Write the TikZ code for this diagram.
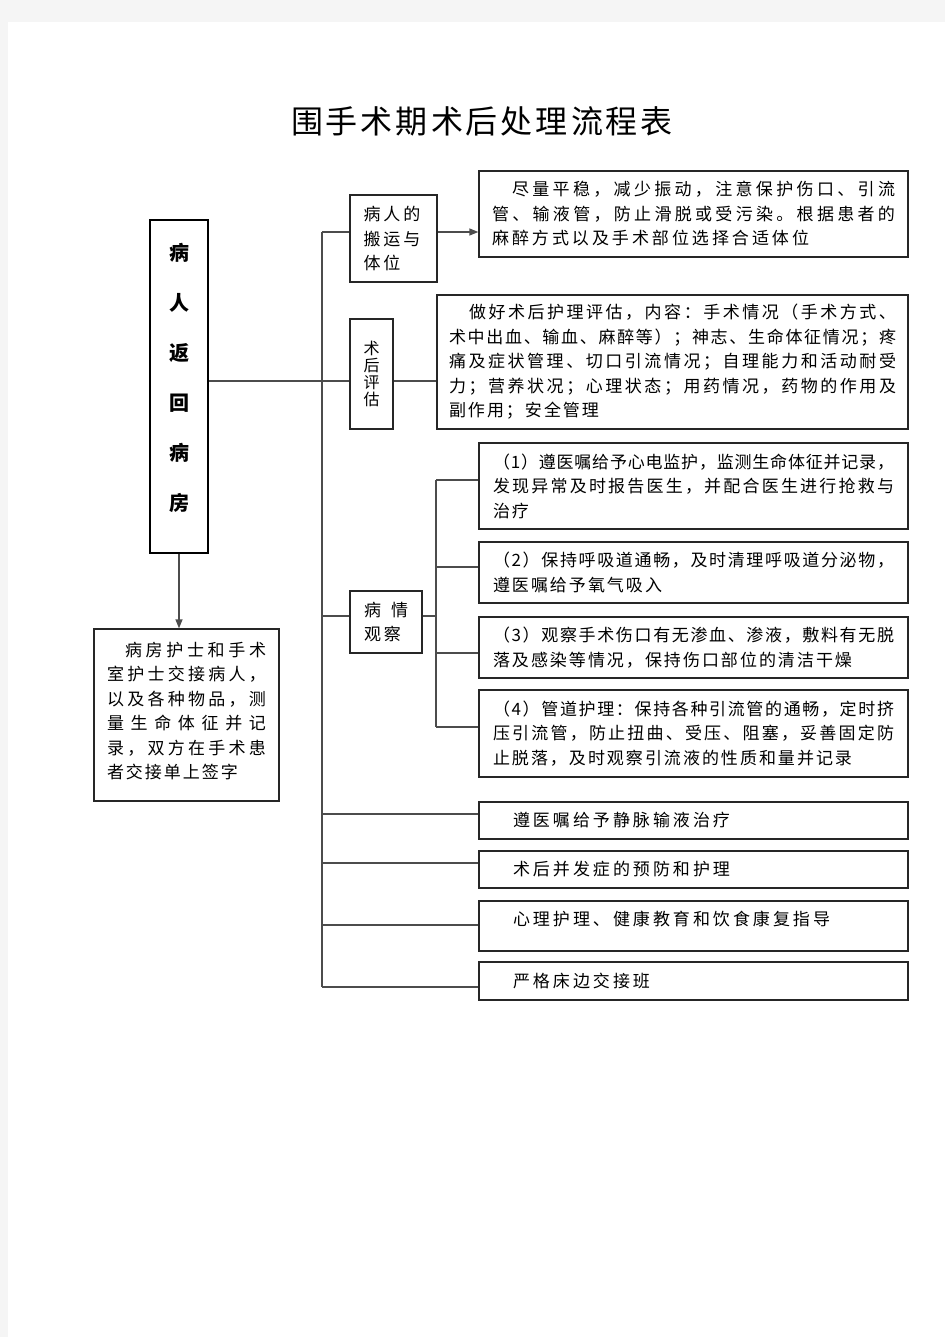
\documentclass[tikz,border=0pt]{standalone}
\usepackage{fontspec}
\newfontfamily\cjk{Noto Sans CJK SC}
\usetikzlibrary{arrows.meta,calc}

\newcommand\bodyfont{\cjk\fontsize{17}{24.5}\selectfont}

% \jl: line spread to the full width, \nl: line with a fixed gap
\ExplSyntaxOn
\NewDocumentCommand \jl { O{0pt} m }
  { \leavevmode \hbox to \hsize { \hskip #1 \relax \tl_map_inline:nn {#2} { ##1 \hskip 0pt plus 1fil \relax } \unskip } }
\NewDocumentCommand \nl { O{2pt} m }
  { \leavevmode \hbox { \tl_map_inline:nn {#2} { ##1 \hskip #1 \relax } \unskip } }
\ExplSyntaxOff

\begin{document}
\begin{tikzpicture}
[x=1pt, y=-1pt, line width=1.3pt, >={Triangle[length=9pt,width=7pt]},
frame/.style={rectangle, draw=black!85, inner sep=0pt, align=left, font=\bodyfont},
link/.style={draw=black!70}]

\useasboundingbox (0,0) rectangle (945,1337);
\fill[black!4] (0,0) rectangle (945,1337);
\fill[white] (8,22) rectangle (945,1337);

\node[font=\cjk\fontsize{32}{36}\selectfont] (title) at (482,121) {\nl[3pt]{围手术期术后处理流程表}};

\node[frame, line width=2pt, draw=black, align=center, minimum width=58pt, minimum height=333pt,
  font=\cjk\bfseries\fontsize{20}{50}\selectfont] (ret) at (179,386.5) {病\\人\\返\\回\\病\\房\\[-30pt]\mbox{}};

\node[frame, minimum width=185pt, minimum height=172pt, text width=159pt] (handover) at (186.5,715) {%
\jl[18pt]{病房护士和手术}\\
\jl{室护士交接病人，}\\
\jl{以及各种物品，测}\\
\jl{量生命体征并记}\\
\jl{录，双方在手术患}\\
\nl{者交接单上签字}\\[-15pt]\mbox{}};

\node[frame, minimum width=87pt, minimum height=87pt, text width=60pt] (move) at (393.5,238.5) {%
\nl[3pt]{病人的}\\
\nl[3pt]{搬运与}\\
\nl[3pt]{体位}};

\node[frame, align=center, minimum width=43pt, minimum height=110pt,
  font=\cjk\fontsize{16}{17}\selectfont] (eval) at (371.5,374) {术\\后\\评\\估};

\node[frame, minimum width=72pt, minimum height=62pt, text width=44pt] (watch) at (386,622) {%
\nl[10pt]{病情}\\
\nl[3pt]{观察}};

\node[frame, minimum width=429pt, minimum height=86pt, text width=403pt] (keep) at (693.5,214) {%
\jl[20pt]{尽量平稳，减少振动，注意保护伤口、引流}\\
\jl{管、输液管，防止滑脱或受污染。根据患者的}\\
\nl[3pt]{麻醉方式以及手术部位选择合适体位}};

\node[frame, minimum width=471pt, minimum height=134pt, text width=447pt] (assess) at (672.5,362) {%
\jl[20pt]{做好术后护理评估，内容：手术情况（手术方式、}\\
\jl{术中出血、输血、麻醉等）；神志、生命体征情况；疼}\\
\jl{痛及症状管理、切口引流情况；自理能力和活动耐受}\\
\jl{力；营养状况；心理状态；用药情况，药物的作用及}\\
\nl{副作用；安全管理}};

\node[frame, minimum width=429pt, minimum height=86pt, text width=401pt] (o1) at (693.5,486) {%
\jl{（1）遵医嘱给予心电监护，监测生命体征并记录，}\\
\jl{发现异常及时报告医生，并配合医生进行抢救与}\\
\nl{治疗}};

\node[frame, minimum width=429pt, minimum height=61pt, text width=401pt] (o2) at (693.5,572.5) {%
\jl{（2）保持呼吸道通畅，及时清理呼吸道分泌物，}\\
\nl{遵医嘱给予氧气吸入}};

\node[frame, minimum width=429pt, minimum height=61pt, text width=401pt] (o3) at (693.5,647.5) {%
\jl{（3）观察手术伤口有无渗血、渗液，敷料有无脱}\\
\nl{落及感染等情况，保持伤口部位的清洁干燥}};

\node[frame, minimum width=429pt, minimum height=87pt, text width=401pt] (o4) at (693.5,733.5) {%
\jl{（4）管道护理：保持各种引流管的通畅，定时挤}\\
\jl{压引流管，防止扭曲、受压、阻塞，妥善固定防}\\
\nl{止脱落，及时观察引流液的性质和量并记录}};

\node[frame, minimum width=429pt, minimum height=37pt, text width=401pt] (b1) at (693.5,820.5) {\hspace*{20pt}\nl[3pt]{遵医嘱给予静脉输液治疗}};
\node[frame, minimum width=429pt, minimum height=37pt, text width=401pt] (b2) at (693.5,869.5) {\hspace*{20pt}\nl[3pt]{术后并发症的预防和护理}};
\node[frame, minimum width=429pt, minimum height=50pt, text width=401pt] (b3) at (693.5,926) {\hspace*{20pt}\nl[3pt]{心理护理、健康教育和饮食康复指导}\\[-10pt]\mbox{}};
\node[frame, minimum width=429pt, minimum height=38pt, text width=401pt] (b4) at (693.5,981) {\hspace*{20pt}\nl[3pt]{严格床边交接班}};

% main trunk
\coordinate (t1) at (322,232);
\coordinate (t2) at (322,381);
\coordinate (t3) at (322,616);
\coordinate (t4) at (322,814);
\coordinate (t5) at (322,863);
\coordinate (t6) at (322,925);
\coordinate (t7) at (322,987);
\draw[link] (t1) -- (t7);
\draw[link] (t1) -- (t1 -| move.west);
\draw[link,->] (t1 -| move.east) -- (t1 -| keep.west);
\draw[link] (t2 -| ret.east) -- (t2 -| eval.west);
\draw[link] (t2 -| eval.east) -- (t2 -| assess.west);
\draw[link] (t3) -- (t3 -| watch.west);
\foreach \i/\n in {4/b1,5/b2,6/b3,7/b4}
  \draw[link] (t\i) -- (t\i -| \n.west);

% observation branch
\coordinate (s0) at (436,616);
\coordinate (s1) at (436,480);
\coordinate (s2) at (436,567);
\coordinate (s3) at (436,653);
\coordinate (s4) at (436,727);
\draw[link] (s0 -| watch.east) -- (s0);
\draw[link] (s1) -- (s4);
\foreach \i/\n in {1/o1,2/o2,3/o3,4/o4}
  \draw[link] (s\i) -- (s\i -| \n.west);

\draw[link,->] (ret.south) -- (ret.south |- handover.north);

\end{tikzpicture}
\end{document}
